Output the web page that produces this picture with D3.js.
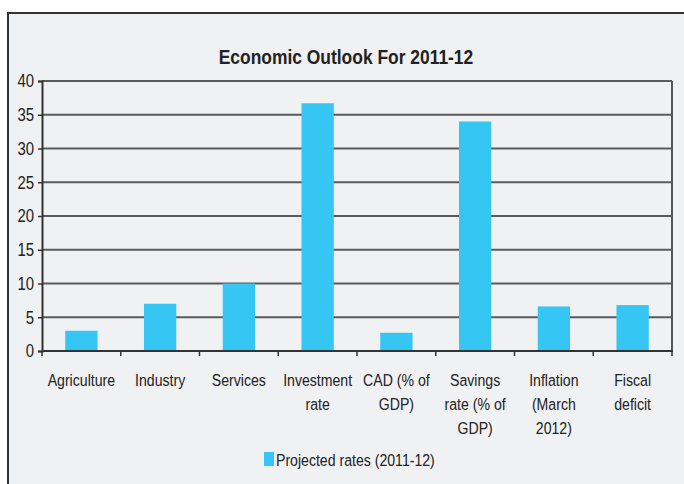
<!DOCTYPE html>
<html>
<head>
<meta charset="utf-8">
<script src="https://cdn.jsdelivr.net/npm/d3@7"></script>
<style>
  body { margin: 0; background: #fff; }
  svg text { font-family: "Liberation Sans", Arial, sans-serif; fill: #222; }
</style>
</head>
<body>
<svg id="chart" width="684" height="484"></svg>
<script>
'use strict'

// chart data
const categories = [
  ['Agriculture'],
  ['Industry'],
  ['Services'],
  ['Investment', 'rate'],
  ['CAD (% of', 'GDP)'],
  ['Savings', 'rate (% of', 'GDP)'],
  ['Inflation', '(March', '2012)'],
  ['Fiscal', 'deficit']
]
const values = [3, 7, 10, 36.7, 2.7, 34, 6.6, 6.8]
const yTicks = [0, 5, 10, 15, 20, 25, 30, 35, 40]
const seriesName = 'Projected rates (2011-12)'
const title = 'Economic Outlook For 2011-12'

const SX = 0.83 // squeeze text horizontally (narrow face look)

const svg = d3.select('#chart')
const m = { left: 42, right: 672, top: 81, bottom: 351 }

// outer frame
svg.append('rect')
  .attr('x', 8).attr('y', 13)
  .attr('width', 700).attr('height', 500)
  .attr('fill', '#f0f1f3')
  .attr('stroke', '#333').attr('stroke-width', 2)

// narrow text layer
const txt = svg.append('g').attr('transform', `scale(${SX},1)`)

txt.append('text')
  .attr('x', 346 / SX).attr('y', 64)
  .attr('text-anchor', 'middle')
  .style('font-size', '21px').style('font-weight', 'bold')
  .text(title)

const x = d3.scaleBand()
  .domain(d3.range(categories.length))
  .range([m.left, m.right])
  .paddingInner(0.59)
  .paddingOuter(0.295)

const y = d3.scaleLinear().domain([0, 40]).range([m.bottom, m.top])

// gridlines
svg.append('g')
  .selectAll('line')
  .data(yTicks.filter(d => d > 0))
  .join('line')
  .attr('x1', m.left).attr('x2', m.right)
  .attr('y1', d => y(d)).attr('y2', d => y(d))
  .attr('stroke', '#5a5a5a').attr('stroke-width', 2)

// right border
svg.append('line')
  .attr('x1', m.right).attr('x2', m.right)
  .attr('y1', m.top).attr('y2', m.bottom)
  .attr('stroke', '#555').attr('stroke-width', 2)

// bars
svg.append('g')
  .selectAll('rect')
  .data(values)
  .join('rect')
  .attr('x', (d, i) => x(i))
  .attr('width', x.bandwidth())
  .attr('y', d => y(d))
  .attr('height', d => y(0) - y(d))
  .attr('fill', '#35c6f4')

// y axis (line + ticks), labels drawn in the narrow layer
const yAxis = d3.axisLeft(y).tickValues(yTicks).tickSize(4).tickFormat('')
const gy = svg.append('g').attr('transform', `translate(${m.left},0)`).call(yAxis)
gy.select('.domain').attr('stroke', '#333').attr('stroke-width', 2)
gy.selectAll('.tick line').attr('stroke', '#333').attr('stroke-width', 1.5)

txt.append('g')
  .selectAll('text')
  .data(yTicks)
  .join('text')
  .attr('x', 34 / SX)
  .attr('y', d => y(d))
  .attr('dy', '0.36em')
  .attr('text-anchor', 'end')
  .style('font-size', '18px')
  .text(d => d)

// x axis baseline + boundary ticks
const step = x.step()
svg.append('line')
  .attr('x1', m.left).attr('x2', m.right + 1)
  .attr('y1', y(0)).attr('y2', y(0))
  .attr('stroke', '#333').attr('stroke-width', 2)
svg.append('g')
  .selectAll('line')
  .data(d3.range(categories.length + 1))
  .join('line')
  .attr('x1', i => m.left + i * step).attr('x2', i => m.left + i * step)
  .attr('y1', y(0)).attr('y2', y(0) + 5)
  .attr('stroke', '#333').attr('stroke-width', 1.5)

// x labels
const lab = txt.append('g')
  .selectAll('text')
  .data(categories)
  .join('text')
  .attr('text-anchor', 'middle')
  .style('font-size', '17px')
lab.each(function (lines, i) {
  d3.select(this).selectAll('tspan')
    .data(lines)
    .join('tspan')
    .attr('x', (x(i) + x.bandwidth() / 2) / SX)
    .attr('y', (d, j) => 386 + j * 24)
    .text(d => d)
})

// legend
svg.append('rect')
  .attr('x', 264).attr('y', 452).attr('width', 10).attr('height', 14)
  .attr('fill', '#35c6f4')
txt.append('text')
  .attr('x', 276 / SX).attr('y', 466)
  .style('font-size', '17px')
  .text(seriesName)
</script>
</body>
</html>
